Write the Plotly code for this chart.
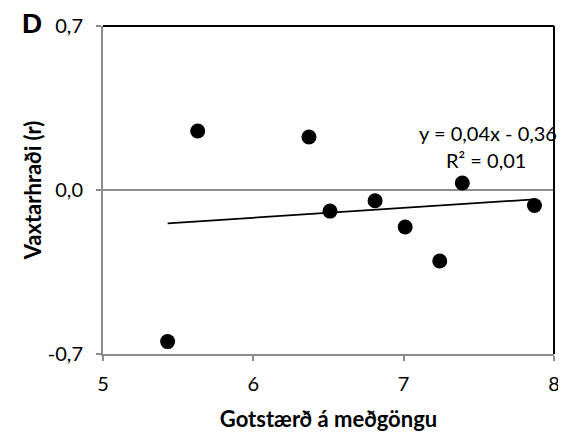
import numpy as np
import plotly.graph_objects as go

# Data
litter_size = [5.43, 5.63, 6.37, 6.51, 6.81, 7.01, 7.24, 7.39, 7.87]
growth_rate = [-0.647, 0.252, 0.226, -0.090, -0.046, -0.158, -0.303, 0.030, -0.066]
x_ticks = [5, 6, 7, 8]
y_ticks = [-0.7, 0.0, 0.7]
y_tick_labels = ["-0,7", "0,0", "0,7"]
equation_text = "y = 0,04x - 0,36"
r2_text = "R² = 0,01"

slope, intercept = np.polyfit(litter_size, growth_rate, 1)
trend_x = [min(litter_size), max(litter_size)]
trend_y = [slope * v + intercept for v in trend_x]

FONT = "Lato, 'Open Sans', sans-serif"

fig = go.Figure()
fig.add_trace(go.Scatter(
    x=litter_size, y=growth_rate, mode="markers",
    marker=dict(size=15, color="black"), showlegend=False, hoverinfo="skip"))
fig.add_trace(go.Scatter(
    x=trend_x, y=trend_y, mode="lines",
    line=dict(color="black", width=1.8), showlegend=False, hoverinfo="skip"))

# the page body has an 8px default margin, so the figure is sized to fit the window
fig.update_layout(
    width=558, height=428,
    margin=dict(l=95, r=12, t=18, b=82, autoexpand=False),
    paper_bgcolor="white", plot_bgcolor="white",
    font=dict(family=FONT, size=20, color="black"),
    xaxis=dict(range=[5, 8], tickvals=x_ticks, ticktext=[str(v) for v in x_ticks],
               showgrid=False, zeroline=False, showline=True, linecolor="#8c8c8c",
               linewidth=2, ticks="outside", ticklen=5, tickcolor="#8c8c8c", tickwidth=2,
               tickfont=dict(size=20), automargin=False, ticklabelstandoff=6,
               title=dict(text="<b>Gotstærð á meðgöngu</b>", font=dict(size=22), standoff=18)),
    yaxis=dict(range=[-0.7, 0.7], tickvals=y_ticks, ticktext=y_tick_labels,
               showgrid=True, gridcolor="#8c8c8c", gridwidth=2, zeroline=False,
               showline=True, linecolor="#8c8c8c", linewidth=2,
               ticks="outside", ticklen=5, tickcolor="#8c8c8c", tickwidth=2,
               tickfont=dict(size=20), automargin=False, ticklabelstandoff=9,
               title=dict(text="<b>Vaxtarhraði (r)</b>", font=dict(size=22), standoff=0)),
    shapes=[
        dict(type="line", xref="paper", yref="paper", x0=0, x1=1, y0=1, y1=1,
             line=dict(color="black", width=2)),
        dict(type="line", xref="paper", yref="paper", x0=1, x1=1, y0=0, y1=1,
             line=dict(color="black", width=2)),
    ],
    annotations=[
        dict(text="<b>D</b>", xref="paper", yref="paper", x=-0.158, y=1.009,
             xanchor="center", yanchor="middle", showarrow=False,
             font=dict(family="'Liberation Sans', Arial, sans-serif", size=28)),
        dict(text=equation_text, x=7.56, y=0.245, xref="x", yref="y",
             xanchor="center", yanchor="middle", showarrow=False, font=dict(size=20)),
        dict(text=r2_text, x=7.55, y=0.128, xref="x", yref="y",
             xanchor="center", yanchor="middle", showarrow=False, font=dict(size=20)),
    ],
)

fig.write_html("out.html")
